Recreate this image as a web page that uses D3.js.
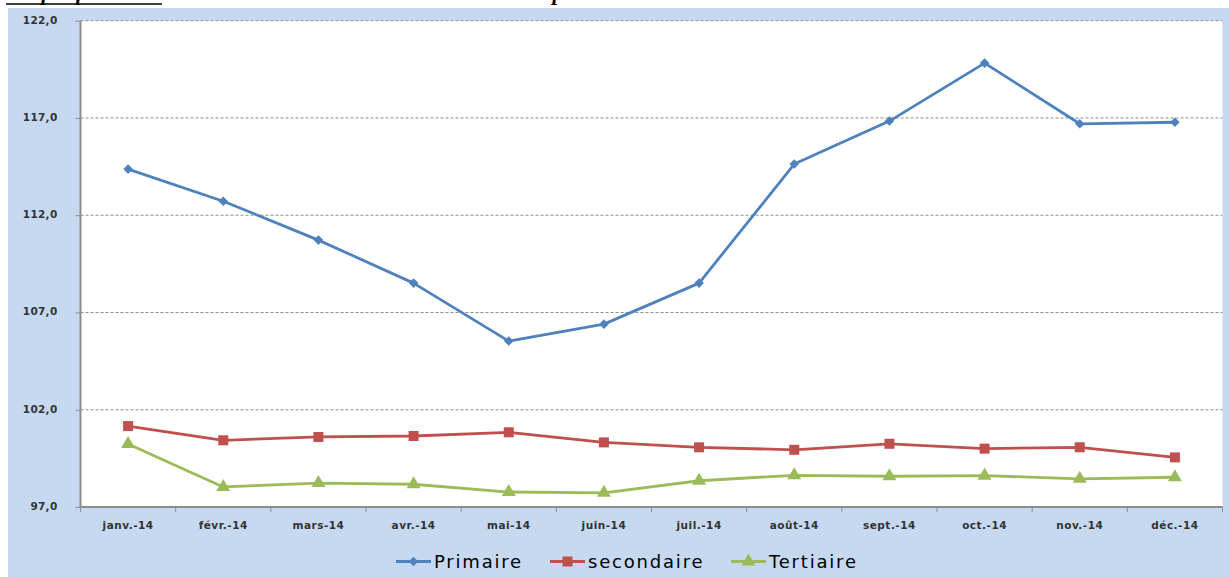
<!DOCTYPE html>
<html><head><meta charset="utf-8">
<script src="https://cdn.jsdelivr.net/npm/d3@7"></script>
<style>body{margin:0;background:#fff}svg{display:block}</style>
</head><body>
<svg id="c" width="1229" height="577"></svg>
<script>
const categories = ["janv.-14","févr.-14","mars-14","avr.-14","mai-14","juin-14","juil.-14","août-14","sept.-14","oct.-14","nov.-14","déc.-14"];
const primaire   = [114.37,112.72,110.72,108.51,105.53,106.40,108.51,114.63,116.84,119.82,116.70,116.78];
const secondaire = [101.16,100.43,100.60,100.65,100.84,100.32,100.07,99.94,100.25,100.00,100.07,99.55];
const tertiaire  = [100.24,98.03,98.23,98.17,97.77,97.73,98.35,98.63,98.58,98.61,98.45,98.53];
const yTicks = [97,102,107,112,117,122];
const seriesNames = ["Primaire","secondaire","Tertiaire"];
const titleLead = "Graphique n°14 :";
const titleRest = " Evolution de l'indice selon les secteurs de production";

const series = [
  {name: seriesNames[0], values: primaire, color: "#4F81BD", kind: "diamond"},
  {name: seriesNames[1], values: secondaire, color: "#C0504D", kind: "square"},
  {name: seriesNames[2], values: tertiaire, color: "#9BBB59", kind: "triangle"}
];
function sym(kind){
  if (kind==="diamond") return {d: d3.symbol(d3.symbolSquare, 46)(), rot: 45};
  if (kind==="square") return {d: d3.symbol(d3.symbolSquare, 100)(), rot: 0};
  return {d: d3.symbol(d3.symbolTriangle, 85)(), rot: 0};
}

const svg = d3.select("#c");
// title, cut off at the top edge as in the source
const tt = svg.append("text").attr("x", 6).attr("y", 0)
  .attr("font-family", "Liberation Serif").attr("font-style","italic").attr("font-weight","bold")
  .attr("font-size", 22).attr("fill","#000");
tt.append("tspan").text(titleLead);
tt.append("tspan").text(titleRest);
svg.append("line").attr("x1",6).attr("x2",162).attr("y1",4).attr("y2",4).attr("stroke","#000").attr("stroke-width",1.4);

// background
svg.append("rect").attr("x",8).attr("y",8).attr("width",1221).attr("height",569).attr("fill","#C6D9F1");

const L = 80.5, R = 1222.5, T = 20.7, B = 507;
svg.append("rect").attr("x",L).attr("y",T).attr("width",R-L).attr("height",B-T).attr("fill","#fff");

const x = d3.scaleBand().domain(categories).range([L, R]);
const y = d3.scaleLinear().domain([97,122]).range([B, T]);

// gridlines
svg.append("g").selectAll("line").data(yTicks.filter(d=>d>97)).join("line")
  .attr("x1",L).attr("x2",R).attr("y1",d=>y(d)).attr("y2",d=>y(d))
  .attr("stroke","#8c8c8c").attr("stroke-width",1).attr("stroke-dasharray","3,2");

const fmt = d => d.toFixed(1).replace(".", ",");
// y axis
const ya = svg.append("g").attr("transform",`translate(${L},0)`)
  .call(d3.axisLeft(y).tickValues(yTicks).tickFormat(fmt).tickSize(5).tickPadding(18));
ya.select(".domain").attr("stroke","#8c8c8c").attr("stroke-width",2).attr("d",`M0,${B}V${T}`);
ya.selectAll(".tick line").attr("stroke","#8c8c8c").attr("stroke-width",1);
ya.selectAll("text").attr("font-family","DejaVu Sans").attr("font-weight","bold")
  .attr("font-size",10.5).attr("fill","#333").attr("letter-spacing","0.3").attr("y",-1);

// x axis
const xa = svg.append("g").attr("transform",`translate(0,${B})`)
  .call(d3.axisBottom(x).tickSize(0).tickPadding(15));
xa.select(".domain").attr("stroke","#8c8c8c").attr("stroke-width",2).attr("d",`M${L},0H${R}`);
xa.selectAll("text").attr("font-family","DejaVu Sans").attr("font-weight","bold")
  .attr("font-size",10.5).attr("fill","#333").attr("letter-spacing","0.5");
svg.append("g").selectAll("line").data(d3.range(categories.length+1)).join("line")
  .attr("x1",i=>L + i*x.step()).attr("x2",i=>L + i*x.step())
  .attr("y1",B).attr("y2",B+5).attr("stroke","#8c8c8c").attr("stroke-width",1);

// lines
const line = d3.line().x((d,i)=>x(categories[i])+x.bandwidth()/2).y(d=>y(d));
series.forEach(s=>{
  svg.append("path").datum(s.values).attr("d",line).attr("fill","none")
    .attr("stroke",s.color).attr("stroke-width",2.8).attr("stroke-linejoin","round");
  const sm = sym(s.kind);
  svg.append("g").selectAll("path").data(s.values).join("path")
    .attr("transform",(d,i)=>`translate(${x(categories[i])+x.bandwidth()/2},${y(d)}) rotate(${sm.rot})`)
    .attr("d",sm.d).attr("fill",s.color);
});

// legend
const legY = 561.5;
const legX = [396, 550, 731];
series.forEach((s,i)=>{
  const g = svg.append("g").attr("transform",`translate(${legX[i]},${legY})`);
  g.append("line").attr("x1",0).attr("x2",35).attr("stroke",s.color).attr("stroke-width",2.8);
  const sm = sym(s.kind);
  g.append("path").attr("transform",`translate(17.5,0) rotate(${sm.rot})`).attr("d",sm.d).attr("fill",s.color);
  g.append("text").attr("x",38).attr("y",6.5).attr("font-family","DejaVu Sans")
    .attr("font-size",18).attr("letter-spacing","1.8").attr("fill","#000").text(s.name);
});
</script>
</body></html>
